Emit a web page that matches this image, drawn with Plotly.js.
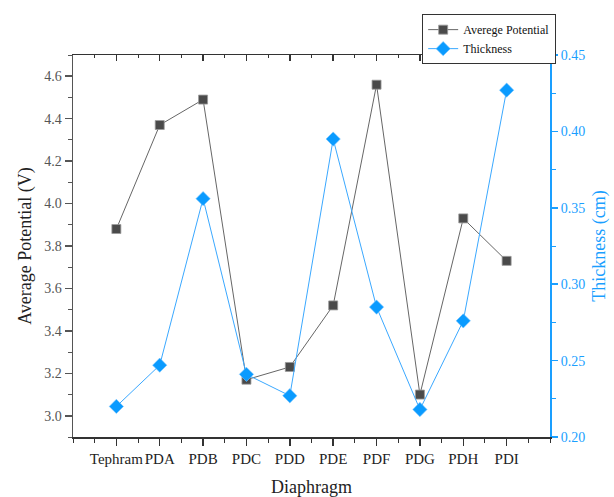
<!DOCTYPE html>
<html>
<head>
<meta charset="utf-8">
<script src="https://cdn.plot.ly/plotly-3.0.1.min.js"></script>
<style>html,body{margin:0;padding:0;background:#fff;}#chart{width:614px;height:497px;}</style>
</head>
<body>
<div id="chart"></div>
<script>
const categories = ["Tephram","PDA","PDB","PDC","PDD","PDE","PDF","PDG","PDH","PDI"];
const averagePotential = [3.88, 4.37, 4.49, 3.17, 3.23, 3.52, 4.56, 3.10, 3.93, 3.73];
const thickness = [0.220, 0.247, 0.356, 0.241, 0.227, 0.395, 0.285, 0.218, 0.276, 0.427];
const leftTicks = [3.0, 3.2, 3.4, 3.6, 3.8, 4.0, 4.2, 4.4, 4.6];
const rightTicks = [0.20, 0.25, 0.30, 0.35, 0.40, 0.45];

const xIdx = categories.map((c, i) => i);
const FONT = "Liberation Serif, Times New Roman, serif";
const BLUE = '#1a9fff';
const DARK = '#333333';

const traces = [
  {
    x: xIdx, y: averagePotential, name: 'Averege Potential',
    type: 'scatter', mode: 'lines+markers',
    line: {color: '#666666', width: 1},
    marker: {symbol: 'square', size: 9, color: '#4a4a4a', line: {color: '#9a9a9a', width: 0.8}},
    xaxis: 'x', yaxis: 'y'
  },
  {
    x: xIdx, y: thickness, name: 'Thickness',
    type: 'scatter', mode: 'lines+markers',
    line: {color: '#3aa8ff', width: 1},
    marker: {symbol: 'diamond', size: 11, color: '#0a9bff', line: {color: '#7cc6ff', width: 0.6}},
    xaxis: 'x', yaxis: 'y2'
  },
  {
    x: [], y: [], xaxis: 'x2', yaxis: 'y', showlegend: false, hoverinfo: 'skip'
  }
];

const layout = {
  width: 614, height: 497,
  margin: {l: 73, r: 64, t: 55, b: 60},
  paper_bgcolor: '#ffffff', plot_bgcolor: '#ffffff',
  font: {family: FONT, color: DARK, size: 13},
  showlegend: true,
  legend: {
    x: 0.732, y: 1.107, xanchor: 'left', yanchor: 'top',
    bgcolor: '#ffffff', bordercolor: '#333333', borderwidth: 1,
    font: {family: FONT, size: 12, color: '#111'},
    tracegroupgap: 0, itemwidth: 30
  },
  xaxis: {
    range: [-1, 10],
    tickmode: 'array', tickvals: xIdx, ticktext: categories,
    tickangle: 0,
    ticks: 'outside', ticklen: 7, tickwidth: 1.5, tickcolor: DARK,
    showline: true, linecolor: DARK, linewidth: 1.5,
    showgrid: false, zeroline: false,
    tickfont: {family: FONT, size: 15, color: '#222'},
    minor: {tickmode: 'linear', tick0: -1, dtick: 0.5, ticks: 'outside', ticklen: 4, tickcolor: DARK, tickwidth: 1, showgrid: false},
    title: {text: 'Diaphragm', font: {family: FONT, size: 18, color: '#222'}, standoff: 16}
  },
  xaxis2: {
    range: [-1, 10], overlaying: 'x', side: 'top', anchor: 'y',
    tickmode: 'linear', tick0: -1, dtick: 1,
    ticks: 'inside', ticklen: 6, tickwidth: 1.5, tickcolor: DARK,
    showline: true, linecolor: DARK, linewidth: 1.5,
    showticklabels: false, showgrid: false, zeroline: false,
    minor: {tickmode: 'linear', tick0: -1, dtick: 0.5, ticks: 'inside', ticklen: 3, tickcolor: DARK, tickwidth: 1, showgrid: false}
  },
  yaxis: {
    range: [2.9, 4.7],
    tickmode: 'array', tickvals: leftTicks, ticktext: leftTicks.map(v => v.toFixed(1)),
    ticks: 'outside', ticklen: 7, tickwidth: 1.5, tickcolor: '#555',
    showline: true, linecolor: '#555', linewidth: 1.5,
    showgrid: false, zeroline: false,
    tickfont: {family: FONT, size: 14, color: '#555'},
    minor: {tickmode: 'linear', tick0: 2.9, dtick: 0.1, ticks: 'outside', ticklen: 4, tickcolor: '#555', tickwidth: 1, showgrid: false},
    title: {text: 'Average Potential (V)', font: {family: FONT, size: 18, color: '#222'}, standoff: 8}
  },
  yaxis2: {
    range: [0.2, 0.45], overlaying: 'y', side: 'right', anchor: 'x',
    tickmode: 'array', tickvals: rightTicks, ticktext: rightTicks.map(v => v.toFixed(2)),
    ticks: 'outside', ticklen: 6, tickwidth: 1.5, tickcolor: BLUE,
    showline: true, linecolor: BLUE, linewidth: 2,
    showgrid: false, zeroline: false,
    tickfont: {family: FONT, size: 14, color: BLUE},
    minor: {tickmode: 'linear', tick0: 0.2, dtick: 0.025, ticks: 'outside', ticklen: 4, tickcolor: BLUE, tickwidth: 1, showgrid: false},
    title: {text: 'Thickness (cm)', font: {family: FONT, size: 18, color: BLUE}, standoff: 8}
  }
};

Plotly.newPlot('chart', traces, layout, {displayModeBar: false, staticPlot: true});
</script>
</body>
</html>
